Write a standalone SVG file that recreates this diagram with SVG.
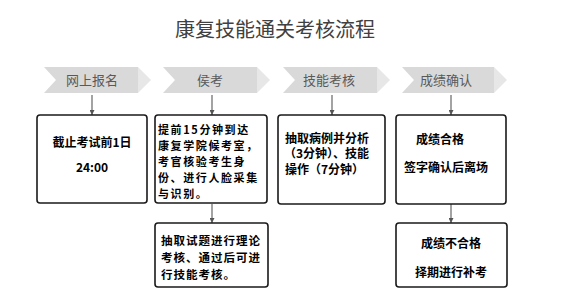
<svg xmlns="http://www.w3.org/2000/svg" width="562" height="307" viewBox="0 0 562 307">
<defs>
<style>
.title{font-family:"Noto Sans CJK SC","Noto Sans",sans-serif;font-size:20px;fill:#404040;text-anchor:middle}
.body{fill:#d9d9d9}
.tip{fill:#e7e7e7}
.ct{font-family:"Noto Sans CJK SC","Noto Sans",sans-serif;font-size:13px;fill:#595959;text-anchor:middle}
.box{fill:#fff;stroke:#1a1a1a;stroke-width:1.6}
.bt{font-family:"Noto Sans CJK SC","Noto Sans",sans-serif;font-size:12px;font-weight:bold;fill:#000}
.tight{font-size:11px;letter-spacing:1.6px}
.t5{font-size:11.5px;letter-spacing:1px}
.mid{text-anchor:middle}
.conn{stroke:#666;stroke-width:1.2;fill:none;marker-end:url(#ah)}
</style>
<marker id="ah" viewBox="0 0 10 10" refX="10" refY="5" markerWidth="5" markerHeight="5" markerUnits="userSpaceOnUse" orient="auto">
<path d="M0,0 L10,5 L0,10 z" fill="#555"/>
</marker>
</defs>
<rect width="562" height="307" fill="#fff"/>
<text class="title" x="275" y="37">康复技能通关考核流程</text>

<g id="step1">
<polygon class="body" points="44,67 138,67 138,93 44,93 56,80"/>
<polygon class="tip" points="138,67 151,80 138,93"/>
<text class="ct" x="92" y="84.5">网上报名</text>
</g>
<g id="step2">
<polygon class="body" points="163,67 257,67 257,93 163,93 175,80"/>
<polygon class="tip" points="257,67 270,80 257,93"/>
<text class="ct" x="210" y="84.5">侯考</text>
</g>
<g id="step3">
<polygon class="body" points="283,67 377,67 377,93 283,93 295,80"/>
<polygon class="tip" points="377,67 390,80 377,93"/>
<text class="ct" x="329" y="84.5">技能考核</text>
</g>
<g id="step4">
<polygon class="body" points="402,67 494,67 494,93 402,93 414,80"/>
<polygon class="tip" points="494,67 507,80 494,93"/>
<text class="ct" x="446" y="84.5">成绩确认</text>
</g>

<g id="connectors">
<line class="conn" x1="92" y1="95" x2="92" y2="115"/>
<line class="conn" x1="212" y1="95" x2="212" y2="115"/>
<line class="conn" x1="332" y1="95" x2="332" y2="115"/>
<line class="conn" x1="451" y1="95" x2="451" y2="115"/>
<line class="conn" x1="212" y1="204" x2="212" y2="223"/>
<line class="conn" x1="451" y1="204" x2="451" y2="223"/>
</g>

<g id="box1">
<rect class="box" x="37" y="115" width="110" height="88" rx="3"/>
<text class="bt mid" x="92" y="146.5">截止考试前1日</text>
<text class="bt mid" x="92" y="171.5">24:00</text>
</g>
<g id="box2">
<rect class="box" x="155" y="115" width="112" height="88" rx="3"/>
<text class="bt tight" x="158" y="134">提前15分钟到达</text>
<text class="bt tight" x="158" y="150">康复学院候考室，</text>
<text class="bt tight" x="158" y="166">考官核验考生身</text>
<text class="bt tight" x="158" y="182">份、进行人脸采集</text>
<text class="bt tight" x="158" y="198">与识别。</text>
</g>
<g id="box3">
<rect class="box" x="278" y="115" width="107" height="89" rx="3"/>
<text class="bt" x="285" y="142.5">抽取病例并分析</text>
<text class="bt" x="284" y="158">（3分钟）、技能</text>
<text class="bt" x="285" y="173.5">操作（7分钟）</text>
</g>
<g id="box4">
<rect class="box" x="396" y="115" width="110" height="89" rx="3"/>
<text class="bt mid" x="440" y="143.5">成绩合格</text>
<text class="bt mid" x="446" y="171.5">签字确认后离场</text>
</g>
<g id="box5">
<rect class="box" x="155" y="223" width="113" height="64" rx="3"/>
<text class="bt t5" x="161" y="244.5">抽取试题进行理论</text>
<text class="bt t5" x="161" y="261.5">考核、通过后可进</text>
<text class="bt t5" x="161" y="278.5">行技能考核。</text>
</g>
<g id="box6">
<rect class="box" x="396" y="223" width="111" height="64" rx="3"/>
<text class="bt mid" x="451" y="247.5">成绩不合格</text>
<text class="bt mid" x="451" y="276.5">择期进行补考</text>
</g>
</svg>
